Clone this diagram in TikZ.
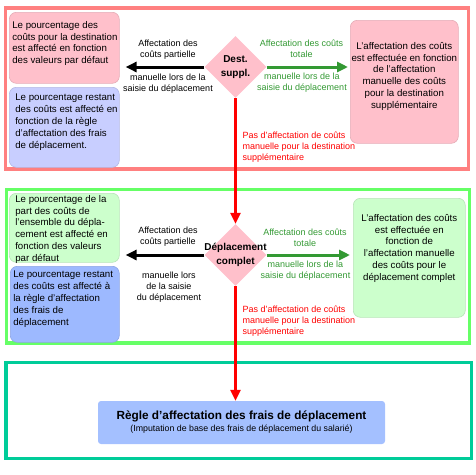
\documentclass[tikz,border=0pt]{standalone}
\usepackage{fontspec}
\setmainfont{Liberation Sans}
\usetikzlibrary{shapes.geometric,arrows.meta}
\definecolor{frameRed}{RGB}{255,128,128}
\definecolor{frameGreen}{RGB}{102,255,102}
\definecolor{frameTeal}{RGB}{0,204,153}
\definecolor{boxPink}{RGB}{255,192,203}
\definecolor{boxLav}{RGB}{200,206,255}
\definecolor{boxMint}{RGB}{204,255,204}
\definecolor{boxBlue}{RGB}{157,185,255}
\definecolor{boxRegle}{RGB}{164,192,255}
\definecolor{arrGreen}{RGB}{51,153,51}
\def\boxtext#1#2#3#4{\parbox[c][#2][t]{#1}{\vspace*{#3}#4}}
\def\lefttext#1{\raggedright\leftskip=#1\rightskip=-12pt plus 1fil\relax}
\def\midtext{\centering\leftskip=-6pt plus 1fil\rightskip=-6pt plus 1fil\relax}
\def\dtext#1{\makebox[0pt]{\begin{tabular}{@{}c@{}}#1\end{tabular}}}

\tikzset{
  frame/.style={line width=3.5pt},
  note/.style={draw, line width=0.6pt, rounded corners=7pt, inner sep=0pt, anchor=north west,
    font=\fontsize{9.7}{11.8}\selectfont},
  decision/.style={diamond, fill=boxPink, inner sep=0pt, minimum width=62pt, minimum height=62pt,
    font=\fontsize{10}{14}\selectfont\bfseries},
  lbl/.style={align=center, font=\fontsize{9}{11}\selectfont},
  flow/.style={line width=3pt, -{Triangle[length=11pt,width=10pt]}}
}

\begin{document}
\begin{tikzpicture}[x=1pt,y=-1pt]
\useasboundingbox (0,0) rectangle (475,475);
\draw[frame,frameRed] (5.5,8) rectangle (468.5,169);
\draw[frame,frameGreen] (6.5,189.5) rectangle (469.5,343);
\draw[frame,frameTeal] (6,362.5) rectangle (471.5,458.5);

\node[note,fill=boxPink,draw=boxPink!90!black] (pctA) at (9,12)
  {\boxtext{110pt}{71pt}{9pt}{\lefttext{3pt}Le pourcentage des\\coûts pour la destination\\est affecté en fonction\\des valeurs par défaut}};
\node[note,fill=boxLav,draw=boxLav!90!black] (pctB) at (9,87)
  {\boxtext{110pt}{80pt}{7pt}{\lefttext{6pt}Le pourcentage restant\\des coûts est affecté en\\fonction de la règle\\d'affectation des frais\\de déplacement.}};
\node[note,fill=boxPink,draw=boxPink!90!black] (pctC) at (350,20)
  {\boxtext{108pt}{123pt}{22pt}{\midtext L'affectation des coûts\\est effectuée en fonction\\de l'affectation\\manuelle des coûts\\pour la destination\\supplémentaire}};
\node[note,fill=boxMint,draw=boxMint!90!black] (pctD) at (9,193)
  {\boxtext{110pt}{69pt}{2pt}{\lefttext{6pt}Le pourcentage de la\\part des coûts de\\l'ensemble du dépla-\\cement est affecté en\\fonction des valeurs\\par défaut}};
\node[note,fill=boxBlue,draw=boxBlue!90!black] (pctE) at (10,266)
  {\boxtext{109pt}{76pt}{5pt}{\lefttext{3pt}Le pourcentage restant\\des coûts est affecté à\\la règle d'affectation\\des frais de\\déplacement}};
\node[note,fill=boxMint,draw=boxMint!90!black] (pctF) at (353,198)
  {\boxtext{112pt}{119pt}{16pt}{\midtext L'affectation des coûts\\est effectuée en\\fonction de\\l'affectation manuelle\\des coûts pour le\\déplacement complet}};

\node[decision] (dest) at (235.5,67) {\raisebox{3pt}{\dtext{Dest.\\suppl.}}};
\node[decision] (depl) at (235.5,255) {\dtext{Déplacement\\complet}};
\node[fill=boxRegle, rounded corners=3pt, minimum width=287pt, minimum height=43pt, align=center] (regle) at (241.5,422.5)
  {{\fontsize{11.8}{13}\selectfont\bfseries Règle d’affectation des frais de déplacement}\\[0pt]{\fontsize{8.8}{10}\selectfont (Imputation de base des frais de déplacement du salarié)}};

\node[lbl] (partA) at (168,49.5) {Affectation des\\coûts partielle};
\node[lbl] (manA) at (168,84) {manuelle lors de la\\saisie du déplacement};
\node[lbl,text=arrGreen] (totA) at (301.5,48.5) {Affectation des coûts\\totale};
\node[lbl,text=arrGreen] (manB) at (302,82.5) {manuelle lors de la\\saisie du déplacement};
\node[lbl,text=red,align=left,anchor=west] (pasA) at (239,147.5) {Pas d'affectation de coûts\\manuelle pour la destination\\supplémentaire};

\node[lbl] (partB) at (168,237) {Affectation des\\coûts partielle};
\node[lbl] (manC) at (169,287) {manuelle lors\\de la saisie\\du déplacement};
\node[lbl,text=arrGreen] (totB) at (305,237.5) {Affectation des coûts\\totale};
\node[lbl,text=arrGreen] (manD) at (305.5,270.5) {manuelle lors de la\\saisie du déplacement};
\node[lbl,text=red,align=left,anchor=west] (pasB) at (239,321.5) {Pas d'affectation de coûts\\manuelle pour la destination\\supplémentaire};

\draw[flow,shorten >=6pt] (dest.west) -- (dest.west -| pctA.east);
\draw[flow,arrGreen,shorten >=2pt] (dest.east) -- (dest.east -| pctC.west);
\draw[flow,red] (dest.south) -- (depl.north);
\draw[flow,shorten >=6pt] (depl.west) -- (depl.west -| pctD.east);
\draw[flow,arrGreen,shorten >=3pt] (depl.east) -- (depl.east -| pctF.west);
\draw[flow,red] (depl.south) -- (depl.south |- regle.north);
\end{tikzpicture}
\end{document}
